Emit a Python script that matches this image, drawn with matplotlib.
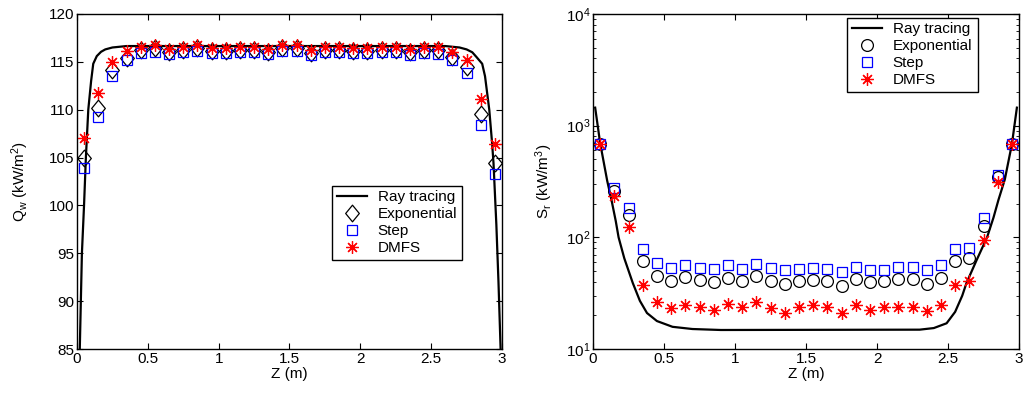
import matplotlib
matplotlib.use("Agg")
import matplotlib.pyplot as plt
from matplotlib.ticker import LogLocator, NullFormatter
from matplotlib.path import Path

plt.rcParams['font.family'] = ['Liberation Sans', 'DejaVu Sans']
plt.rcParams['mathtext.fontset'] = 'custom'
plt.rcParams['mathtext.rm'] = 'Liberation Sans'
plt.rcParams['mathtext.it'] = 'Liberation Sans:italic'
plt.rcParams['font.size'] = 11

# ---------------- data ----------------
z_pts = [0.05, 0.15, 0.25, 0.35, 0.45, 0.55, 0.65, 0.75, 0.85, 0.95,
         1.05, 1.15, 1.25, 1.35, 1.45, 1.55, 1.65, 1.75, 1.85, 1.95,
         2.05, 2.15, 2.25, 2.35, 2.45, 2.55, 2.65, 2.75, 2.85, 2.95]

# Left panel: wall heat flux Q_w (kW/m^2)
ray_z_q = [0.02, 0.035, 0.05, 0.063, 0.08, 0.1, 0.115, 0.14, 0.17, 0.2, 0.25, 0.35,
           2.6, 2.7, 2.75, 2.79, 2.82, 2.86, 2.88, 2.91, 2.93, 2.94, 2.96, 2.975, 2.99]
ray_q = [85, 95, 100, 105, 110, 113.0, 114.8, 115.6, 116.05, 116.3, 116.5, 116.65,
         116.65, 116.5, 116.3, 116.0, 115.5, 114.8, 113.5, 110, 106.5, 104.4, 98, 92, 85]

exp_q = [105.0, 110.2, 114.2, 115.4, 116.25, 116.4, 116.0, 116.25, 116.45, 116.1,
         116.1, 116.25, 116.25, 116.0, 116.45, 116.45, 115.95, 116.25, 116.25, 116.1,
         116.1, 116.25, 116.25, 116.0, 116.25, 116.2, 115.5, 114.5, 109.5, 104.4]
step_q = [103.9, 109.2, 113.5, 115.2, 115.96, 116.07, 115.82, 116.07, 116.17, 115.89,
          115.89, 116.07, 116.07, 115.82, 116.17, 116.17, 115.72, 116.07, 116.07, 115.89,
          115.89, 116.0, 116.07, 115.72, 115.89, 115.82, 115.2, 113.8, 108.4, 103.3]
dmfs_q = [107.0, 111.7, 115.0, 116.1, 116.58, 116.73, 116.31, 116.58, 116.76, 116.41,
          116.41, 116.58, 116.58, 116.31, 116.76, 116.76, 116.24, 116.58, 116.58, 116.41,
          116.41, 116.58, 116.58, 116.31, 116.58, 116.51, 116.0, 115.2, 111.1, 106.4]

# Right panel: radiative source S_r (kW/m^3)
ray_z_s = [0.015, 0.05, 0.1, 0.13, 0.16, 0.18, 0.22, 0.28, 0.33, 0.38, 0.45, 0.56, 0.7, 0.9,
           2.3, 2.4, 2.49, 2.55, 2.6, 2.63, 2.7, 2.775, 2.82, 2.855, 2.9, 2.95, 2.985]
ray_s = [1450, 700, 320, 216, 140, 100, 65, 39, 27, 21, 17.8, 15.8, 15.1, 14.8,
         14.9, 15.4, 17, 21.5, 30, 39, 62, 100, 150, 216, 330, 685, 1450]

exp_s = [685, 260, 159, 62, 45, 41, 43.7, 41.7, 40, 43,
         41, 45.5, 41, 38.3, 40.5, 41.5, 41, 36.7, 42.5, 39.5,
         40.5, 42, 42, 38.5, 43.5, 61.5, 65, 126, 350, 685]
step_s = [685, 277, 183, 79, 59, 53, 57, 53, 52.5, 56,
          52.5, 58, 53, 51, 52.5, 53, 52.5, 48.6, 54.5, 51,
          51.5, 54, 54.5, 50.5, 56, 78, 81, 148, 363, 685]
dmfs_s = [685, 234, 124, 37.5, 26.3, 23.3, 24.8, 24, 22.5, 25.4,
          24, 26.5, 23.5, 21.2, 24, 24.7, 23.8, 21, 25, 22.5,
          23.8, 24, 24, 22, 25, 37.5, 41, 95, 316, 685]

x_ticks = [0, 0.5, 1, 1.5, 2, 2.5, 3]
x_tick_labels = ['0', '0.5', '1', '1.5', '2', '2.5', '3']
q_ticks = [85, 90, 95, 100, 105, 110, 115, 120]

# ---------------- figure ----------------
fig = plt.figure(figsize=(10.26, 3.94), dpi=100)
ax1 = fig.add_axes([0.0750, 0.1142, 0.4143, 0.8503])
ax2 = fig.add_axes([0.5780, 0.1142, 0.4152, 0.8503])

star = (8, 2, 0)
diamond = Path([(0, 1), (0.82, 0), (0, -1), (-0.82, 0), (0, 1)],
               [Path.MOVETO, Path.LINETO, Path.LINETO, Path.LINETO, Path.CLOSEPOLY])
mew = 0.9

# Left panel
ax1.plot(ray_z_q, ray_q, color='black', lw=1.6, label='Ray tracing', zorder=3)
ax1.plot(z_pts, exp_q, ls='none', marker=diamond, ms=12, mfc='none', mec='black',
         mew=mew, label='Exponential', zorder=4)
ax1.plot(z_pts, step_q, ls='none', marker='s', ms=7.5, mfc='none', mec='#0000ff',
         mew=mew, label='Step', zorder=4)
ax1.plot(z_pts, dmfs_q, ls='none', marker=star, ms=9, mfc='none', mec='#ff0000',
         mew=mew, label='DMFS', zorder=5)
ax1.set_xlim(0, 3)
ax1.set_ylim(85, 120)
ax1.set_xticks(x_ticks)
ax1.set_xticklabels(x_tick_labels)
ax1.set_yticks(q_ticks)
ax1.set_xlabel('Z (m)', labelpad=1)
ax1.set_ylabel('Q$_\\mathrm{w}$ (kW/m$^2$)', labelpad=13)
ax1.legend(loc='lower left', bbox_to_anchor=(0.6, 0.266, 0.306, 0.218), mode='expand',
           fancybox=False, edgecolor='black', framealpha=1, borderpad=0.3,
           labelspacing=0.2, handlelength=2.0, handletextpad=0.7, borderaxespad=0,
           fontsize=11)

# Right panel
ax2.plot(ray_z_s, ray_s, color='black', lw=1.6, label='Ray tracing', zorder=3)
ax2.plot(z_pts, exp_s, ls='none', marker='o', ms=8.5, mfc='none', mec='black',
         mew=mew, label='Exponential', zorder=4)
ax2.plot(z_pts, step_s, ls='none', marker='s', ms=7.5, mfc='none', mec='#0000ff',
         mew=mew, label='Step', zorder=4)
ax2.plot(z_pts, dmfs_s, ls='none', marker=star, ms=9, mfc='none', mec='#ff0000',
         mew=mew, label='DMFS', zorder=5)
ax2.set_yscale('log')
ax2.set_xlim(0, 3)
ax2.set_ylim(10, 1e4)
ax2.set_xticks(x_ticks)
ax2.set_xticklabels(x_tick_labels)
ax2.yaxis.set_major_locator(LogLocator(base=10, numticks=10))
ax2.yaxis.set_minor_locator(LogLocator(base=10, subs=range(2, 10), numticks=10))
ax2.yaxis.set_minor_formatter(NullFormatter())
ax2.set_xlabel('Z (m)', labelpad=1)
ax2.set_ylabel('S$_\\mathrm{r}$ (kW/m$^3$)', labelpad=8)
ax2.legend(loc='lower left', bbox_to_anchor=(0.596, 0.767, 0.308, 0.218), mode='expand',
           fancybox=False, edgecolor='black', framealpha=1, borderpad=0.3,
           labelspacing=0.2, handlelength=2.0, handletextpad=0.7, borderaxespad=0,
           fontsize=11)

for ax in (ax1, ax2):
    for s in ax.spines.values():
        s.set_linewidth(1.0)
    ax.tick_params(which='major', direction='in', top=True, right=True,
                   length=4, width=0.8, labelsize=11, pad=2)
    ax.tick_params(which='minor', direction='in', top=True, right=True,
                   length=2.5, width=0.6)
    ax.get_legend().get_frame().set_linewidth(1.0)

fig.savefig('out.png', dpi=100)
